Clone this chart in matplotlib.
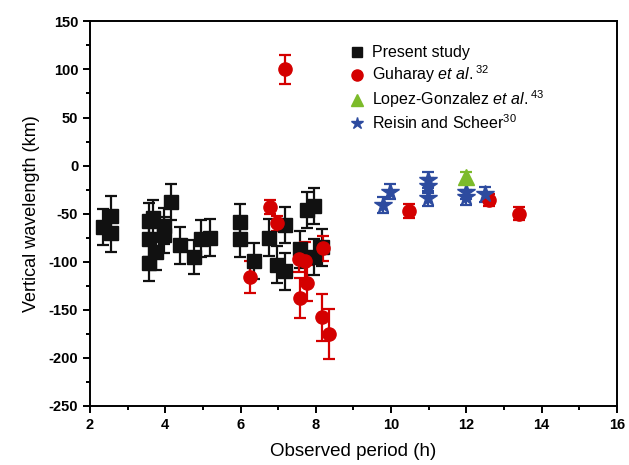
import matplotlib
matplotlib.use("Agg")
import matplotlib.pyplot as plt
from matplotlib.lines import Line2D
from matplotlib.ticker import MultipleLocator

# Present study
present_x = [2.34, 2.57, 2.57, 3.56, 3.56, 3.56, 3.67, 3.76, 3.96, 3.96, 4.16, 4.38, 4.77, 4.96,
             5.18, 5.98, 5.98, 6.36, 6.76, 6.98, 7.17, 7.17, 7.57, 7.76, 7.96, 7.96, 8.17]
present_y = [-64, -52, -70, -58, -76, -101, -55, -90, -63, -72, -38, -83, -95, -76,
             -75, -59, -76, -99, -75, -103, -62, -110, -87, -46, -42, -95, -85]
present_err = [19, 20, 20, 19, 19, 19, 19, 19, 19, 19, 19, 19, 18, 19,
               19, 19, 19, 19, 19, 19, 19, 19, 19, 19, 19, 19, 19]

# Guharay et al.
guharay_x = [6.26, 6.77, 6.98, 7.17, 7.55, 7.70, 7.57, 7.77, 8.17, 8.19, 8.34, 10.48, 12.59, 13.39]
guharay_y = [-116, -43, -60, 100, -97, -99, -138, -122, -158, -86, -175, -47, -36, -50]
guharay_err = [17, 7, 8, 15, 14, 20, 21, 19, 24, 13, 26, 7, 6, 7]

# Lopez-Gonzalez et al.
lopez_x = [12.0]
lopez_y = [-12]
lopez_err = [5]

# Reisin and Scheer
reisin_x = [9.78, 9.97, 10.99, 10.99, 10.99, 11.99, 11.99, 12.48]
reisin_y = [-41, -27, -15, -21, -34, -27, -33, -30]
reisin_err = [8, 8, 8, 8, 8, 8, 8, 8]

BLACK = "#111111"
RED = "#d40000"
GREEN = "#7cbb2a"
BLUE = "#2d4b9f"

plt.rcParams['font.family'] = ['Liberation Sans', 'DejaVu Sans']
plt.rcParams['mathtext.fontset'] = 'custom'
plt.rcParams['mathtext.rm'] = 'Liberation Sans'
plt.rcParams['mathtext.it'] = 'Liberation Sans:italic'
plt.rcParams['axes.unicode_minus'] = False

fig = plt.figure(figsize=(6.29, 4.65), dpi=100)
ax = fig.add_axes([0.143, 0.127, 0.838, 0.827])

def draw(x, y, err, marker, color, ms):
    ax.errorbar(x, y, yerr=err, fmt=marker, color=color, ecolor=color, ms=ms,
                mec=color, elinewidth=1.6, capsize=4.5, capthick=1.6, zorder=3)

draw(present_x, present_y, present_err, 's', BLACK, 10)
draw(guharay_x, guharay_y, guharay_err, 'o', RED, 9.5)
draw(reisin_x, reisin_y, reisin_err, '*', BLUE, 13)
draw(lopez_x, lopez_y, lopez_err, '^', GREEN, 11)

ax.set_xlim(2, 16)
ax.set_ylim(-250, 150)
ax.xaxis.set_major_locator(MultipleLocator(2))
ax.xaxis.set_minor_locator(MultipleLocator(1))
ax.yaxis.set_major_locator(MultipleLocator(50))
ax.yaxis.set_minor_locator(MultipleLocator(25))
ax.tick_params(which='both', direction='out', top=False, right=False, width=1.4)
ax.tick_params(which='major', length=5, labelsize=10.5)
ax.tick_params(which='minor', length=3)
for lab in ax.get_xticklabels() + ax.get_yticklabels():
    lab.set_fontweight('bold')
for sp in ax.spines.values():
    sp.set_linewidth(1.4)

ax.set_xlabel("Observed period (h)", fontsize=13.5, labelpad=8)
ax.set_ylabel("Vertical wavelength (km)", fontsize=13, labelpad=6)

handles = [
    Line2D([], [], ls='none', marker='s', color=BLACK, ms=7),
    Line2D([], [], ls='none', marker='o', color=RED, ms=8),
    Line2D([], [], ls='none', marker='^', color=GREEN, ms=9),
    Line2D([], [], ls='none', marker='*', color=BLUE, ms=9),
]
labels = [
    "Present study",
    r"Guharay $\mathit{et\ al.}$$^{32}$",
    r"Lopez-Gonzalez $\mathit{et\ al.}$$^{43}$",
    r"Reisin and Scheer$^{30}$",
]
ax.legend(handles, labels, loc='upper left', bbox_to_anchor=(0.462, 0.975), frameon=False,
          fontsize=11.5, handletextpad=0.3, handlelength=1.2, labelspacing=0.2)

fig.savefig("out.png", dpi=100)
